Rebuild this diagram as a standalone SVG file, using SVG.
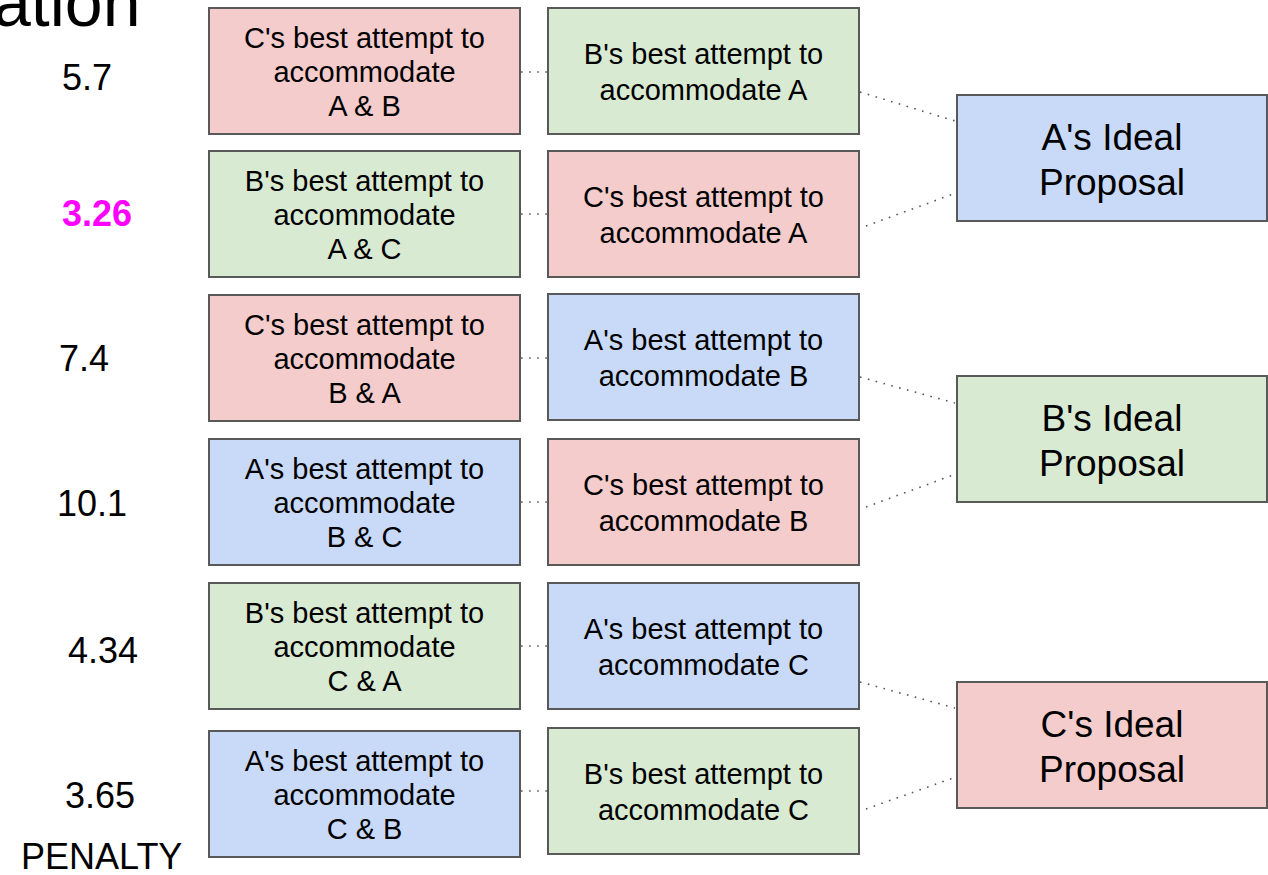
<svg xmlns="http://www.w3.org/2000/svg" width="1268" height="875" viewBox="0 0 1268 875">
<style>
text{font-family:"Liberation Sans",Arial,sans-serif;fill:#000;}
.box{stroke:#595959;stroke-width:2;}
.pink{fill:#f4cccc;}
.green{fill:#d9ead3;}
.blue{fill:#c9daf8;}
.t{font-size:29px;text-anchor:middle;}
.big{font-size:37px;text-anchor:middle;}
.num{font-size:36px;}
.conn{stroke:#595959;stroke-width:1.6;stroke-dasharray:1.6 6.5;fill:none;}
</style>
<rect width="1268" height="875" fill="#fff"/>
<text x="-7" y="26" style="font-size:68px">ation</text>
<g id="labels">
<text class="num" x="62" y="90">5.7</text>
<text class="num" x="62" y="226" style="font-weight:bold;fill:#ff00ff">3.26</text>
<text class="num" x="59" y="371">7.4</text>
<text class="num" x="57" y="516">10.1</text>
<text class="num" x="68" y="663">4.34</text>
<text class="num" x="65" y="808">3.65</text>
<text class="num" x="21" y="869">PENALTY</text>
</g>
<g id="connectors">
<line class="conn" x1="521" y1="72" x2="547" y2="72"/>
<line class="conn" x1="521" y1="214" x2="547" y2="214"/>
<line class="conn" x1="521" y1="358" x2="547" y2="358"/>
<line class="conn" x1="521" y1="502" x2="547" y2="502"/>
<line class="conn" x1="521" y1="646" x2="547" y2="646"/>
<line class="conn" x1="521" y1="791" x2="547" y2="791"/>
<line class="conn" x1="860" y1="92" x2="955" y2="121"/>
<line class="conn" x1="866" y1="226" x2="956" y2="193"/>
<line class="conn" x1="860" y1="377" x2="955" y2="403"/>
<line class="conn" x1="866" y1="507" x2="956" y2="474"/>
<line class="conn" x1="860" y1="682" x2="955" y2="708"/>
<line class="conn" x1="866" y1="809" x2="956" y2="777"/>
</g>
<g id="L1"><rect class="box pink" x="209" y="8" width="311" height="126"/><text class="t" x="364.5" y="48">C's best attempt to</text><text class="t" x="364.5" y="82">accommodate</text><text class="t" x="364.5" y="116">A &amp; B</text></g>
<g id="L2"><rect class="box green" x="209" y="151" width="311" height="126"/><text class="t" x="364.5" y="191">B's best attempt to</text><text class="t" x="364.5" y="225">accommodate</text><text class="t" x="364.5" y="259">A &amp; C</text></g>
<g id="L3"><rect class="box pink" x="209" y="295" width="311" height="126"/><text class="t" x="364.5" y="335">C's best attempt to</text><text class="t" x="364.5" y="369">accommodate</text><text class="t" x="364.5" y="403">B &amp; A</text></g>
<g id="L4"><rect class="box blue" x="209" y="439" width="311" height="126"/><text class="t" x="364.5" y="479">A's best attempt to</text><text class="t" x="364.5" y="513">accommodate</text><text class="t" x="364.5" y="547">B &amp; C</text></g>
<g id="L5"><rect class="box green" x="209" y="583" width="311" height="126"/><text class="t" x="364.5" y="623">B's best attempt to</text><text class="t" x="364.5" y="657">accommodate</text><text class="t" x="364.5" y="691">C &amp; A</text></g>
<g id="L6"><rect class="box blue" x="209" y="731" width="311" height="126"/><text class="t" x="364.5" y="771">A's best attempt to</text><text class="t" x="364.5" y="805">accommodate</text><text class="t" x="364.5" y="839">C &amp; B</text></g>
<g id="M1"><rect class="box green" x="548" y="8" width="311" height="126"/><text class="t" x="703.5" y="64">B's best attempt to</text><text class="t" x="703.5" y="100">accommodate A</text></g>
<g id="M2"><rect class="box pink" x="548" y="151" width="311" height="126"/><text class="t" x="703.5" y="207">C's best attempt to</text><text class="t" x="703.5" y="243">accommodate A</text></g>
<g id="M3"><rect class="box blue" x="548" y="294" width="311" height="126"/><text class="t" x="703.5" y="350">A's best attempt to</text><text class="t" x="703.5" y="386">accommodate B</text></g>
<g id="M4"><rect class="box pink" x="548" y="439" width="311" height="126"/><text class="t" x="703.5" y="495">C's best attempt to</text><text class="t" x="703.5" y="531">accommodate B</text></g>
<g id="M5"><rect class="box blue" x="548" y="583" width="311" height="126"/><text class="t" x="703.5" y="639">A's best attempt to</text><text class="t" x="703.5" y="675">accommodate C</text></g>
<g id="M6"><rect class="box green" x="548" y="728" width="311" height="126"/><text class="t" x="703.5" y="784">B's best attempt to</text><text class="t" x="703.5" y="820">accommodate C</text></g>
<g id="RA"><rect class="box blue" x="957" y="95" width="310" height="126"/><text class="big" x="1112" y="150">A's Ideal</text><text class="big" x="1112" y="195">Proposal</text></g>
<g id="RB"><rect class="box green" x="957" y="376" width="310" height="126"/><text class="big" x="1112" y="431">B's Ideal</text><text class="big" x="1112" y="476">Proposal</text></g>
<g id="RC"><rect class="box pink" x="957" y="682" width="310" height="126"/><text class="big" x="1112" y="737">C's Ideal</text><text class="big" x="1112" y="782">Proposal</text></g>
</svg>
